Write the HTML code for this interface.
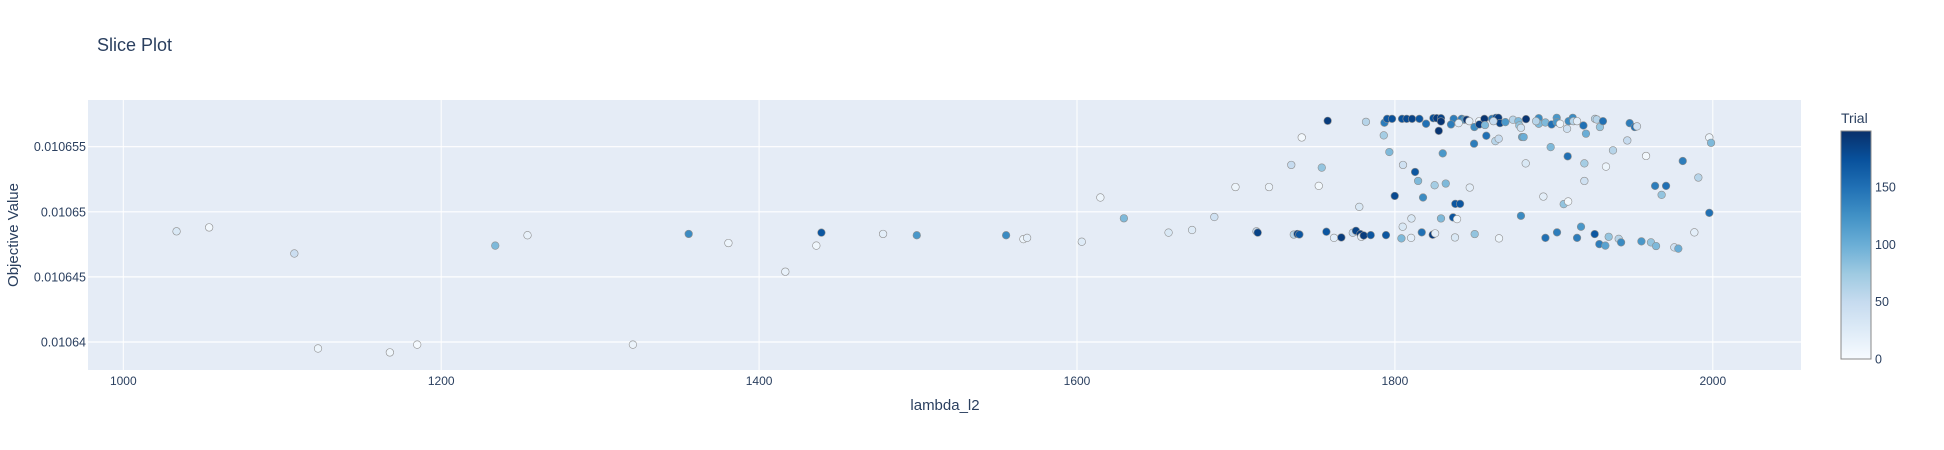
<!DOCTYPE html>
<html><head><meta charset="utf-8"><style>
html,body{margin:0;padding:0;background:#fff;width:1944px;height:450px;overflow:hidden}
svg text{font-family:"Liberation Sans",Arial,sans-serif;fill:#2a3f5f}
</style></head><body>
<svg id="chart" width="1944" height="450" xmlns="http://www.w3.org/2000/svg">
<defs><linearGradient id="cbg" x1="0" y1="1" x2="0" y2="0">
<stop offset="0" stop-color="rgb(247,251,255)"/><stop offset="0.125" stop-color="rgb(222,235,247)"/><stop offset="0.25" stop-color="rgb(198,219,239)"/><stop offset="0.375" stop-color="rgb(158,202,225)"/><stop offset="0.5" stop-color="rgb(107,174,214)"/><stop offset="0.625" stop-color="rgb(66,146,198)"/><stop offset="0.75" stop-color="rgb(33,113,181)"/><stop offset="0.875" stop-color="rgb(8,81,156)"/><stop offset="1" stop-color="rgb(8,48,107)"/></linearGradient></defs>
<text x="97" y="51" font-size="18">Slice Plot</text>
<rect x="88" y="100" width="1713" height="270" fill="#e5ecf6"/>
<g id="grid"></g><g id="pts"></g><g id="axes"></g>
<text x="945" y="410" font-size="15" text-anchor="middle">lambda_l2</text>
<text transform="translate(18,235) rotate(-90)" font-size="15" text-anchor="middle">Objective Value</text>
<text x="1841" y="123" font-size="14">Trial</text>
<rect x="1841" y="131" width="30" height="228" fill="url(#cbg)" stroke="#888" stroke-width="1"/>
<g id="cb"></g>
</svg>
<script>
const xTicks=[1000,1200,1400,1600,1800,2000];
const yTicks=[0.01064,0.010645,0.01065,0.010655];
const yTickLabels=["0.01064","0.010645","0.01065","0.010655"];
const cbTicks=[0,50,100,150];
const lambdaVals=[1033.5,1054,1107.6,1122.5,1167.7,1184.9,1234,1254.3,1320.6,1355.7,1380.7,1416.5,1436,1439.2,1478,1499.2,1555.4,1566.3,1568.6,1603,1614.7,1629.5,1657.6,1672.4,1686.4,1699.7,1712.9,1713.7,1720.8,1734.8,1736.4,1738.7,
1757.7,1741.4,1781.8,1793.4,1795.1,1798.2,1793.0,1796.5,1804.5,1807.4,1810.8,1815.4,1819.6,1824.2,1826.3,1829.0,1829.0,1827.6,1830.1,1837.0,1835.3,1842.0,1843.7,1845.2,1840.1,1846.8,1850.0,1853.1,1853.1,1856.3,1856.7,1861.1,1863.6,1865.1,1866.1,1862,1869.5,1857.5,1849.8,1863.2,1865.3,1874.3,1877.7,1878.3,1879.3,1882.5,1880,1881,1882.3,
1890.5,1890.5,1888.8,1894.7,1898.6,1901.8,1901.8,1903.9,1908.3,1909.3,1911.9,1912.3,1914.6,1918.6,1920.2,1925.9,1927.0,1929.0,1930.9,1898.0,1908.7,
1919.2,1932.8,1937.2,1946.2,1947.7,1950.9,1952.3,1958.0,1981.1,1990.9,1963.7,1970.6,1967.8,1997.8,1998.9,1997.8,1988.4,1919.2,1893.4,1906.2,1909.0,1879.3,
1754,1752.1,1777.6,1799.9,1805.1,1812.7,1814.6,1817.7,1825.0,1832.0,1847.1,1838.0,1841.0,1810.4,1804.9,1829.0,1836.6,1839.1,
1739.9,1756.9,1761.7,1766.3,1773.5,1775.5,1778.3,1778.9,1780.4,1784.8,1794.4,1804.1,1810.2,1816.9,1823.8,1825.3,1837.8,1850.2,1865.5,1894.7,1902,1914.6,1917.1,1925.7,1928.6,1932.4,1934.5,1940.8,1942.3,1955.1,1961.1,1964.3,1975.8,1978.3];
const objVals=[10648.5,10648.8,10646.8,10639.5,10639.2,10639.8,10647.4,10648.2,10639.8,10648.3,10647.6,10645.4,10647.4,10648.4,10648.3,10648.2,10648.2,10647.9,10648.0,10647.7,10651.1,10649.5,10648.4,10648.6,10649.6,10651.9,10648.5,10648.4,10651.9,10653.6,10648.25,10648.3,
10656.99,10655.71,10656.91,10656.84,10657.14,10657.14,10655.87,10654.59,10657.14,10657.14,10657.14,10657.14,10656.76,10657.19,10657.19,10657.19,10656.94,10656.22,10654.49,10657.14,10656.71,10657.14,10657.07,10657.07,10656.81,10656.96,10656.51,10656.96,10656.71,10657.14,10656.66,10657.14,10657.22,10657.22,10656.81,10656.96,10656.89,10655.84,10655.23,10655.43,10655.61,10657.07,10656.96,10656.63,10656.45,10657.12,10655.74,10655.74,10653.72,
10657.19,10656.76,10656.96,10656.86,10656.71,10657.22,10656.89,10656.76,10656.38,10656.96,10657.22,10656.96,10656.96,10656.63,10656.0,10657.14,10657.09,10656.51,10656.96,10654.97,10654.26,
10653.72,10653.47,10654.72,10655.48,10656.81,10656.51,10656.56,10654.29,10653.9,10652.63,10651.99,10651.99,10651.3,10655.71,10655.3,10649.92,10648.42,10652.37,10651.17,10650.59,10650.79,10649.69,
10653.39,10651.99,10650.38,10651.22,10653.6,10653.06,10652.37,10651.1,10652.04,10652.17,10651.86,10650.61,10650.61,10649.49,10648.85,10649.49,10649.57,10649.44,
10648.26,10648.47,10648.0,10648.03,10648.39,10648.54,10648.29,10648.08,10648.18,10648.21,10648.21,10647.96,10648.0,10648.42,10648.24,10648.34,10648.03,10648.29,10647.96,10648.0,10648.42,10648.0,10648.85,10648.29,10647.52,10647.4,10648.08,10647.92,10647.65,10647.73,10647.65,10647.37,10647.27,10647.17];
const trialVals=[30,5,45,10,8,3,90,15,12,130,10,15,8,170,20,120,130,10,20,25,10,90,30,25,40,10,50,185,12,50,60,185,
190,5,60,140,170,175,70,90,175,180,185,170,150,175,190,185,195,195,120,140,140,140,120,195,20,20,130,10,190,195,90,140,170,190,185,50,120,150,140,60,50,60,90,80,40,195,110,100,30,
130,90,60,90,150,120,120,10,40,130,130,60,20,150,100,60,60,80,150,90,150,
70,10,60,50,140,150,40,5,140,60,140,150,80,10,90,150,20,40,20,80,5,130,
80,5,30,180,40,170,90,130,70,90,20,170,170,30,30,90,170,10,
170,170,20,190,50,185,190,20,190,170,170,90,20,150,190,20,30,80,10,150,140,140,120,170,140,110,80,60,130,120,80,90,40,100];
const NS="http://www.w3.org/2000/svg";
const X0=88,X1=1801,Y0=100,Y1=370;
const xs=v=>123.3+(v-1000)*1.5895;
const ys=v=>146.7+(0.010655-v)*(342-146.7)/0.000015;
const cs=t=>359-t*(228/199);
const stops=[[247,251,255],[222,235,247],[198,219,239],[158,202,225],[107,174,214],[66,146,198],[33,113,181],[8,81,156],[8,48,107]];
function col(t){let f=Math.max(0,Math.min(1,t/199))*8,i=Math.min(7,Math.floor(f)),r=f-i;const a=stops[i],b=stops[i+1];return `rgb(${a.map((c,k)=>Math.round(c+(b[k]-c)*r)).join(",")})`;}
function mk(tag,attrs,parent,text){const e=document.createElementNS(NS,tag);for(const k in attrs)e.setAttribute(k,attrs[k]);if(text!==undefined)e.textContent=text;parent.appendChild(e);return e;}
const grid=document.getElementById('grid'),axes=document.getElementById('axes'),pts=document.getElementById('pts'),cb=document.getElementById('cb');
xTicks.forEach(t=>{const x=xs(t);
const l=mk('line',{x1:x,x2:x,y1:Y0,y2:Y1,stroke:'#fff','stroke-width':1},grid);


const tx=mk('text',{x:x,y:385,'font-size':12,'text-anchor':'middle'},axes,String(t));

});
yTicks.forEach((t,i)=>{const y=ys(t);
const l=mk('line',{x1:X0,x2:X1,y1:y,y2:y,stroke:'#fff','stroke-width':1.2},grid);


const tx=mk('text',{x:86,y:y+4.5,'font-size':12.5,'text-anchor':'end'},axes,yTickLabels[i]);

});
lambdaVals.forEach((lv,i)=>{const v=objVals[i]*1e-6;
const c=mk('circle',{cx:xs(lv),cy:ys(v),r:3.8,fill:col(trialVals[i]),stroke:'#8e8e8e','stroke-width':0.6},pts);

});
cbTicks.forEach(t=>{
const tx=mk('text',{x:1875,y:cs(t)+4.5,'font-size':12.5},cb,String(t));

});
</script>
</body></html>
